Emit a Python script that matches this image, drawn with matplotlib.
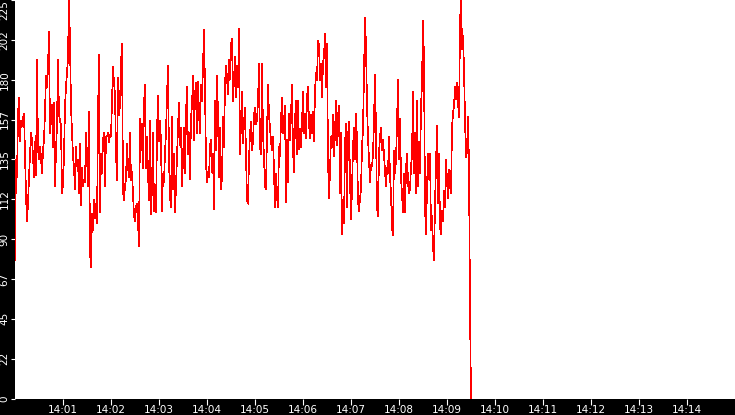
import numpy as np
import matplotlib
matplotlib.use('Agg')
import matplotlib.pyplot as plt

values_0000 = [78, 135, 125, 160, 170, 145, 157, 154, 158, 161,
               137, 115, 100, 110, 125, 138, 150, 146, 137, 125,
               145, 126, 191, 141, 135, 142, 136, 127, 140, 146,
               162, 182, 176, 187, 207, 150, 157, 166, 142, 167,
               120, 140, 155, 191, 160, 157, 154, 116, 121, 137,
               165, 176, 184, 192, 228, 200, 165, 150, 137, 130,
               118, 142, 131, 135, 116, 144, 109, 130, 120, 123,
               122, 150, 137]
values_0131 = [120, 162, 83, 74, 104, 95, 112, 102, 110, 99,
               159, 194, 105, 138, 127, 146, 150, 120, 148, 148,
               150, 145, 149, 148, 168, 187, 178, 172, 139, 123,
               181, 160, 166, 189, 200, 117, 112, 120, 124, 144,
               131, 125, 150, 123, 128, 116, 103, 100, 108, 110,
               100, 86, 158, 140, 155, 130, 166, 177, 130, 148,
               127, 112, 157, 104, 120, 150, 106, 110, 105, 150,
               171, 145]
values_0301 = [157, 145, 106, 127, 122, 139, 150, 171, 188, 135,
               114, 108, 159, 118, 138, 105, 120, 137, 153, 167,
               143, 153, 120, 135, 153, 127, 161, 176, 138, 150,
               124, 159, 165, 182, 146, 172, 178, 150, 179, 161,
               150, 177, 168, 187, 208, 175, 133, 122, 128, 125,
               143, 146, 128, 138, 107, 168, 140, 182, 160, 125]
values_0416 = [153, 118, 125, 159, 142, 178, 188, 181, 172, 191,
               180, 200, 203, 168, 180, 193, 170, 188, 176, 209,
               138, 155, 173, 144, 156, 164, 138, 112, 110, 135,
               150, 156, 140, 145, 160, 164, 155, 157, 168, 189,
               142, 138, 189, 150, 136, 120, 118, 150, 177, 160,
               153, 145, 140, 148, 127, 108, 127, 114, 108, 142]
values_0531 = [137, 157, 170, 150, 157, 165, 111, 146, 122, 161,
               146, 160, 177, 140, 128, 157, 168, 138, 168, 141,
               152, 142, 155, 173, 150, 161, 147, 170, 176, 155,
               147, 160, 150, 162, 145, 174, 184, 180, 202, 200,
               180, 189, 170, 190, 193, 206, 176, 200, 135, 113,
               128, 148, 142, 160, 137, 150, 168, 143, 160, 165]
values_0646 = [116, 150, 93, 106, 99, 143, 155, 108, 148, 156,
               124, 101, 118, 142, 153, 135, 161, 145, 111, 106,
               113, 118, 142, 152, 184, 215, 199, 166, 147, 135,
               122, 132, 131, 138, 157, 183, 150, 108, 103, 138,
               148, 153, 140, 146, 138, 128, 120, 130, 127, 148,
               125, 116, 96, 92, 140, 127, 135, 155, 180, 135]
values_0801 = [158, 125, 115, 105, 127, 105, 130, 138, 122, 116,
               118, 131, 137, 173, 127, 150, 116, 168, 120, 145,
               127, 165, 178, 213, 191, 108, 93, 119, 138, 124,
               138, 95, 103, 86, 78, 110, 131, 154, 110, 138,
               97, 93, 106, 100, 117, 108, 135, 123, 113, 129,
               120, 116, 153, 161, 165, 176, 169, 178, 167, 159,
               209, 232, 197, 205, 186, 158, 136, 140, 159, 131,
               51, 0]

sample_step_s = 1.25
minute_ticks = list(range(1, 15))
y_ticks = [0, 22.5, 45, 67.5, 90, 112.5, 135, 157.5, 180, 202.5, 225]

values = np.array(values_0000 + values_0131 + values_0301 + values_0416
                  + values_0531 + values_0646 + values_0801, dtype=float)
t = np.arange(len(values)) * sample_step_s

fig = plt.figure(figsize=(7.35, 4.15), dpi=100, facecolor='black')
ax = fig.add_axes([15 / 735, 16.5 / 415, 720 / 735, 398.5 / 415])
ax.set_facecolor('white')

ax.plot(t, values, color='#ff0000', lw=0.5, antialiased=False)

ax.set_xlim(0, 900)
ax.set_ylim(0, 225)
for s in ax.spines.values():
    s.set_visible(False)

ax.set_xticks([m * 60 for m in minute_ticks])
ax.set_xticklabels(['14:%02d' % m for m in minute_ticks])
ax.set_yticks(y_ticks)
ylabels = ax.set_yticklabels([str(int(v)) for v in y_ticks], rotation=90, va='center')
ylabels[-1].set_va('top')

ax.tick_params(axis='x', colors='white', labelsize=7.5, length=4, width=0.8,
               direction='out', pad=1)
ax.tick_params(axis='y', colors='white', labelsize=7.5, length=3, width=0.8,
               direction='out', pad=1)

fig.savefig('out.png', dpi=100, facecolor='black')
